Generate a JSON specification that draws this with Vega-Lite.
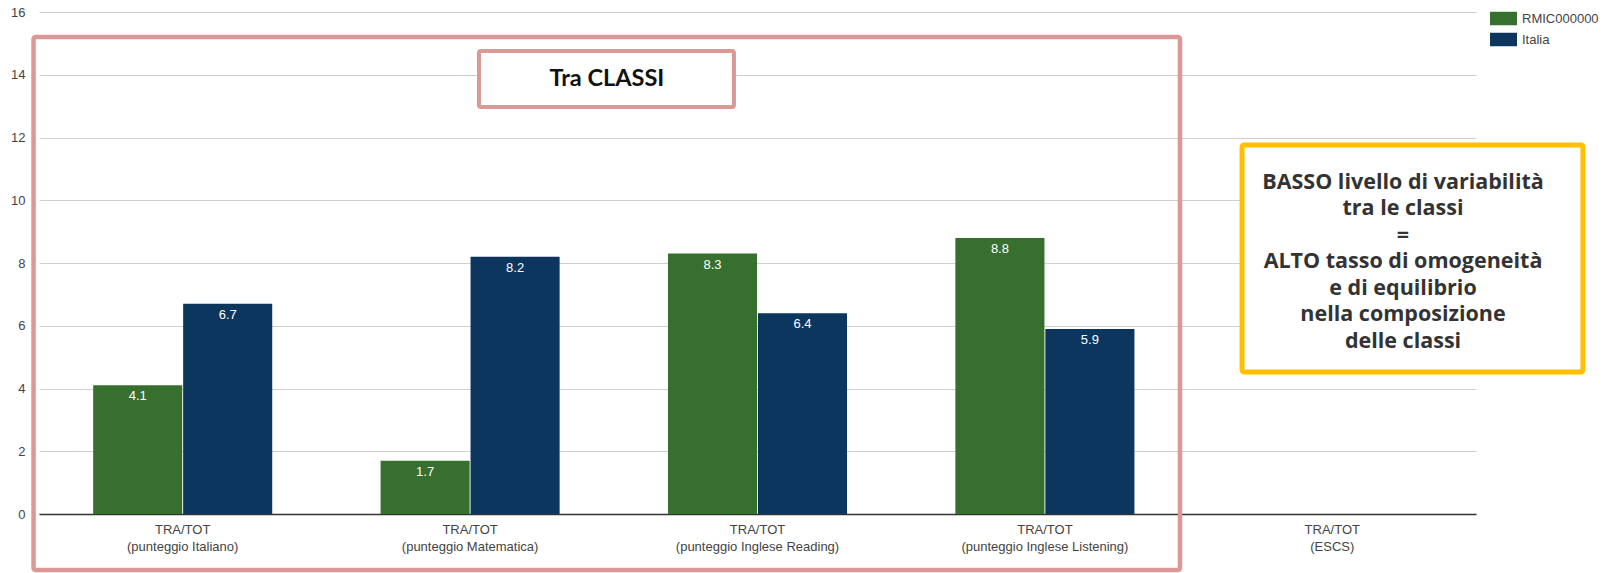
{
  "$schema": "https://vega.github.io/schema/vega-lite/v6.json",
  "width": 1437,
  "height": 502,
  "autosize": "none",
  "padding": {"left": 39, "top": 12, "right": 136, "bottom": 59},
  "background": "white",
  "config": {"view": {"stroke": null}, "font": "Liberation Sans"},
  "datasets": {
    "bars": [
      {"cat": "TRA/TOT\n(punteggio Italiano)", "serie": "RMIC000000", "val": 4.1},
      {"cat": "TRA/TOT\n(punteggio Italiano)", "serie": "Italia", "val": 6.7},
      {"cat": "TRA/TOT\n(punteggio Matematica)", "serie": "RMIC000000", "val": 1.7},
      {"cat": "TRA/TOT\n(punteggio Matematica)", "serie": "Italia", "val": 8.2},
      {"cat": "TRA/TOT\n(punteggio Inglese Reading)", "serie": "RMIC000000", "val": 8.3},
      {"cat": "TRA/TOT\n(punteggio Inglese Reading)", "serie": "Italia", "val": 6.4},
      {"cat": "TRA/TOT\n(punteggio Inglese Listening)", "serie": "RMIC000000", "val": 8.8},
      {"cat": "TRA/TOT\n(punteggio Inglese Listening)", "serie": "Italia", "val": 5.9}
    ]
  },
  "layer": [
    {
      "data": {"name": "bars"},
      "encoding": {
        "x": {
          "field": "cat", "type": "nominal", "sort": null,
          "scale": {
            "domain": ["TRA/TOT\n(punteggio Italiano)", "TRA/TOT\n(punteggio Matematica)", "TRA/TOT\n(punteggio Inglese Reading)", "TRA/TOT\n(punteggio Inglese Listening)", "TRA/TOT\n(ESCS)"],
            "paddingInner": 0.377, "paddingOuter": 0.1885
          },
          "axis": {
            "title": null, "labelAngle": 0, "labelExpr": "split(datum.label, '\\n')",
            "labelFontSize": 13, "labelColor": "#444", "labelLineHeight": 17, "labelPadding": 9,
            "ticks": false, "domainColor": "#333", "domainWidth": 1.5, "grid": false, "labelLimit": 0
          }
        },
        "xOffset": {"field": "serie", "type": "nominal", "sort": ["RMIC000000", "Italia"], "scale": {"paddingInner": 0.01}},
        "y": {
          "field": "val", "type": "quantitative",
          "scale": {"domain": [0, 16], "nice": false},
          "axis": {
            "title": null, "values": [0,1,2,3,4,5,6,7,8,9,10,11,12,13,14,15,16],
            "labelExpr": "datum.value % 2 === 0 ? datum.label : ''",
            "gridColor": {"condition": {"test": "datum.value % 2 === 0", "value": "#cfcfcf"}, "value": "#ececec"},
            "domain": false, "ticks": false, "labelPadding": 14, "labelFontSize": 13, "labelColor": "#444"
          }
        }
      },
      "layer": [
        {
          "mark": {"type": "bar"},
          "encoding": {
            "color": {
              "field": "serie", "type": "nominal",
              "scale": {"domain": ["RMIC000000", "Italia"], "range": ["#37702e", "#0c365e"]},
              "legend": {
                "orient": "none", "legendX": 1451, "legendY": -7, "title": null,
                "symbolType": "M-1,-0.5H1V0.5H-1Z", "symbolSize": 729, "symbolStrokeWidth": 0,
                "labelFontSize": 13, "labelColor": "#444", "labelOffset": 5, "rowPadding": -6, "padding": 0
              }
            }
          }
        },
        {
          "mark": {"type": "text", "color": "white", "fontSize": 13, "baseline": "top", "dy": 5, "align": "center"},
          "encoding": {"text": {"field": "val", "type": "quantitative", "format": ".1f"}}
        }
      ]
    },
    {
      "data": {"values": [{}]},
      "mark": {"type": "rect", "fill": "white", "fillOpacity": 0, "stroke": "#dc9797", "strokeWidth": 4.5, "cornerRadius": 2},
      "encoding": {
        "x": {"datum": -0.019, "type": "quantitative", "scale": {"domain": [0, 5], "nice": false, "zero": false}, "axis": null},
        "x2": {"datum": 3.97},
        "y": {"datum": 15.2, "type": "quantitative", "scale": {"domain": [0, 16], "nice": false}},
        "y2": {"datum": -1.785}
      }
    },
    {
      "data": {"values": [{}]},
      "mark": {"type": "rect", "fill": "white", "stroke": "#dc9797", "strokeWidth": 4, "cornerRadius": 2},
      "encoding": {
        "x": {"datum": 1.531, "type": "quantitative", "scale": {"domain": [0, 5], "nice": false, "zero": false}, "axis": null},
        "x2": {"datum": 2.418},
        "y": {"datum": 14.76, "type": "quantitative", "scale": {"domain": [0, 16], "nice": false}},
        "y2": {"datum": 12.97}
      }
    },
    {
      "data": {"values": [{}]},
      "mark": {"type": "text", "text": "Tra CLASSI", "font": "Lato", "fontWeight": "bold", "fontSize": 23.5, "color": "#111", "align": "center", "baseline": "middle"},
      "encoding": {
        "x": {"datum": 1.976, "type": "quantitative", "scale": {"domain": [0, 5], "nice": false, "zero": false}, "axis": null},
        "y": {"datum": 13.86, "type": "quantitative", "scale": {"domain": [0, 16], "nice": false}}
      }
    },
    {
      "data": {"values": [{}]},
      "mark": {"type": "rect", "fill": "white", "stroke": "#ffc000", "strokeWidth": 5, "cornerRadius": 2},
      "encoding": {
        "x": {"datum": 4.186, "type": "quantitative", "scale": {"domain": [0, 5], "nice": false, "zero": false}, "axis": null},
        "x2": {"datum": 5.372},
        "y": {"datum": 11.76, "type": "quantitative", "scale": {"domain": [0, 16], "nice": false}},
        "y2": {"datum": 4.526}
      }
    },
    {
      "data": {"values": [{}]},
      "mark": {
        "type": "text",
        "text": ["BASSO livello di variabilità", "tra le classi", "=", "ALTO tasso di omogeneità", "e di equilibrio", "nella composizione", "delle classi"],
        "font": "Open Sans", "fontWeight": "bold", "fontSize": 21.5, "lineHeight": 26.5, "color": "#333", "align": "center", "baseline": "middle"
      },
      "encoding": {
        "x": {"datum": 4.746, "type": "quantitative", "scale": {"domain": [0, 5], "nice": false, "zero": false}, "axis": null},
        "y": {"datum": 10.55, "type": "quantitative", "scale": {"domain": [0, 16], "nice": false}}
      }
    }
  ],
  "resolve": {"scale": {"x": "independent"}}
}
